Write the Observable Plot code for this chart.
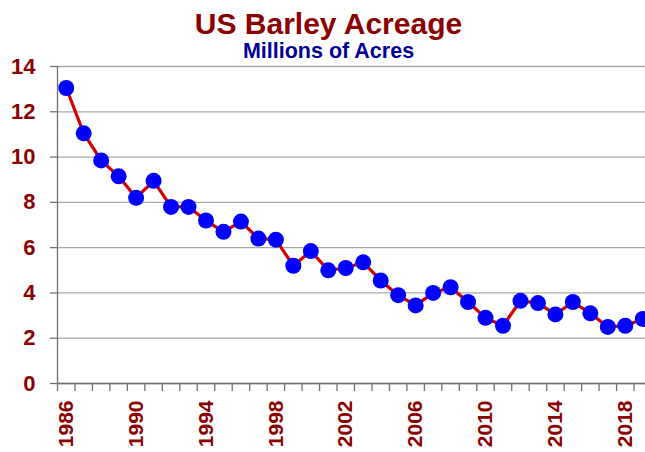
<!DOCTYPE html>
<html>
<head>
<meta charset="utf-8">
<script src="https://cdn.jsdelivr.net/npm/d3@7"></script>
<script src="https://cdn.jsdelivr.net/npm/@observablehq/plot@0.6"></script>
<style>
  html, body { margin: 0; padding: 0; background: #fff; overflow: hidden; }
  #wrap { position: relative; width: 645px; height: 452px; font-family: "Liberation Sans", Arial, sans-serif; }
  #head { position: relative; width: 645px; height: 56px; }
  .title, .sub { position: absolute; left: 6px; width: 645px; text-align: center; line-height: 1; font-weight: bold; white-space: nowrap; }
  .title { top: 8.6px; font-size: 30px; color: #8B0000; }
  .sub { top: 40.5px; font-size: 21.5px; color: #000099; }
  #chart svg { display: block; }
  #chart text { font-weight: bold; }
</style>
</head>
<body>
<div id="wrap">
  <div id="head">
    <div class="title">US Barley Acreage</div>
    <div class="sub">Millions of Acres</div>
  </div>
  <div id="chart"></div>
</div>
<script>
const years = [1986,1987,1988,1989,1990,1991,1992,1993,1994,1995,1996,1997,1998,1999,2000,2001,2002,2003,2004,2005,2006,2007,2008,2009,2010,2011,2012,2013,2014,2015,2016,2017,2018,2019];
const acres = [13.05,11.05,9.85,9.15,8.2,8.95,7.8,7.8,7.2,6.7,7.15,6.4,6.35,5.2,5.85,5.0,5.1,5.35,4.55,3.9,3.45,4.0,4.25,3.6,2.9,2.55,3.65,3.55,3.05,3.6,3.1,2.5,2.55,2.85];
const yTicks = [0,2,4,6,8,10,12,14];
const xLabels = [1986,1990,1994,1998,2002,2006,2010,2014,2018];

const data = years.map((y, i) => ({year: y, value: acres[i]}));
const boundaries = years.map(y => y - 0.5).concat([years[years.length - 1] + 0.5]);

const darkRed = "#8B0000";
const chart = Plot.plot({
  width: 645,
  height: 396,
  marginLeft: 57,
  marginRight: -6,
  marginTop: 10,
  marginBottom: 69,
  style: {fontFamily: "'Liberation Sans', Arial, sans-serif", background: "white"},
  x: {type: "linear", domain: [1985.5, 2019.5], axis: null},
  y: {type: "linear", domain: [0, 14], axis: null},
  marks: [
    Plot.gridY({ticks: yTicks, stroke: "#a8a8a8", strokeOpacity: 1, strokeWidth: 1.3}),
    Plot.axisY({ticks: yTicks, tickSize: 7, tickFormat: () => "", label: null, stroke: "#707070", strokeWidth: 1.3}),
    Plot.axisY({ticks: yTicks, tickSize: 0, tickPadding: 22, label: null, fontSize: 22, fontWeight: "bold", color: darkRed, tickFormat: d => String(d)}),
    Plot.axisX({ticks: boundaries, tickSize: 8, tickFormat: () => "", label: null, stroke: "#707070", strokeWidth: 1.3}),
    Plot.axisX({ticks: xLabels, tickSize: 0, tickPadding: 17, tickRotate: -90, label: null, fontSize: 21, fontWeight: "bold", color: darkRed, tickFormat: d => String(d)}),
    Plot.ruleX([1985.5], {y1: 0, y2: 14, stroke: "#707070", strokeWidth: 1.3}),
    Plot.ruleY([0], {stroke: "#707070", strokeWidth: 1.3}),
    Plot.line(data, {x: "year", y: "value", stroke: "#D40000", strokeWidth: 3.2}),
    Plot.dot(data, {x: "year", y: "value", r: 8, fill: "#0000FF", stroke: "none"})
  ]
});
document.getElementById("chart").appendChild(chart);
</script>
</body>
</html>
